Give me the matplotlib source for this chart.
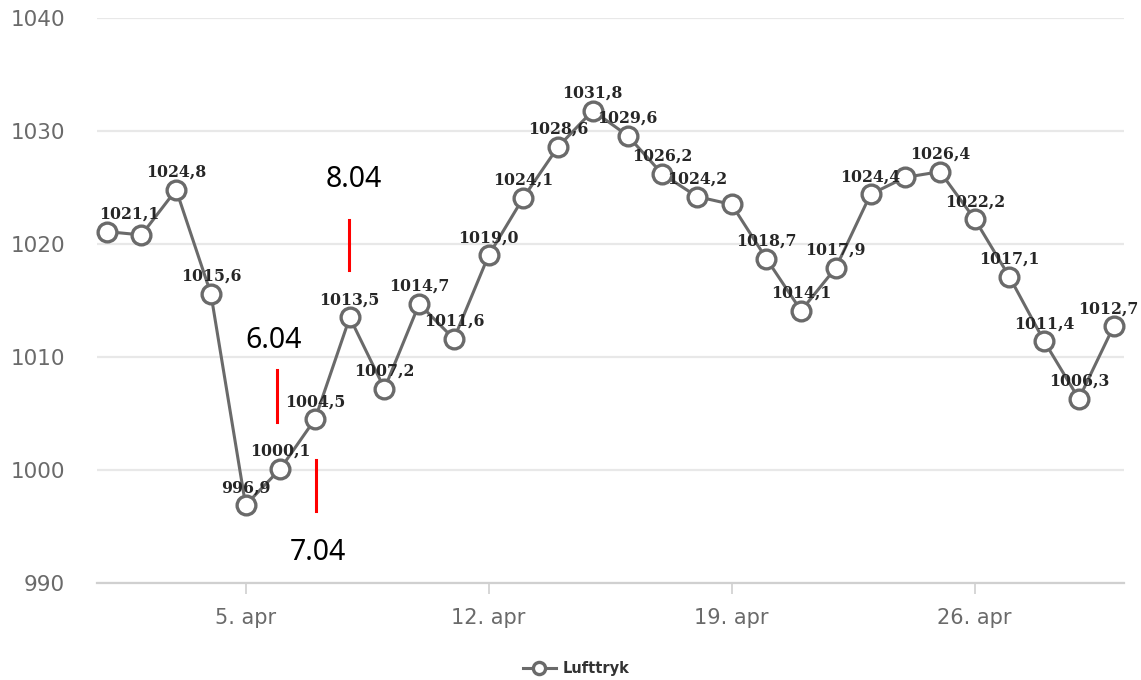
import matplotlib
matplotlib.use("Agg")
import matplotlib.pyplot as plt

days = list(range(1, 31))
pressure = [1021.1, 1020.8, 1024.8, 1015.6, 996.9, 1000.1, 1004.5, 1013.5, 1007.2, 1014.7,
            1011.6, 1019.0, 1024.1, 1028.6, 1031.8, 1029.6, 1026.2, 1024.2, 1023.5, 1018.7,
            1014.1, 1017.9, 1024.4, 1025.9, 1026.4, 1022.2, 1017.1, 1011.4, 1006.3, 1012.7]
labeled = [True, False, True, True, True, True, True, True, True, True,
           True, True, True, True, True, True, True, True, False, True,
           True, True, True, False, True, True, True, True, True, True]
x_ticks = [5, 12, 19, 26]
x_tick_labels = ["5. apr", "12. apr", "19. apr", "26. apr"]
y_ticks = [990, 1000, 1010, 1020, 1030, 1040]
series_name = "Lufttryk"
red_notes = ["6.04", "7.04", "8.04"]

fig = plt.figure(figsize=(11.41, 6.80), dpi=100)
ax = fig.add_axes([97/1141, 1-583/680, (1124-97)/1141, (583-18)/680])

line_color = "#6a6a6a"
ax.plot(days, pressure, color=line_color, lw=2.2, marker="o", ms=13.5,
        mfc="white", mec=line_color, mew=2.4, clip_on=False, zorder=3,
        label=series_name)

for d, v, lab in zip(days, pressure, labeled):
    if lab:
        txt = f"{v:.1f}".replace(".", ",")
        dx = 0
        if d == days[0]:
            dx = 16
        elif d == days[-1]:
            dx = -4
        ax.annotate(txt, (d, v), xytext=(dx, 12.5), textcoords="offset points",
                    ha="center", va="center", fontsize=11.3, fontweight="bold",
                    family="DejaVu Serif", color="#262626", zorder=4)

ax.set_xlim(0.72, 30.3)
ax.set_ylim(990, 1040)
ax.set_yticks(y_ticks)
ax.set_yticklabels([str(t) for t in y_ticks])
ax.set_xticks(x_ticks)
ax.set_xticklabels(x_tick_labels)
ax.grid(axis="y", color="#e8e8e8", lw=1.6)
ax.set_axisbelow(True)
for s in ["top", "right", "left"]:
    ax.spines[s].set_visible(False)
ax.spines["bottom"].set_color("#d0d0d0")
ax.spines["bottom"].set_linewidth(1.6)
ax.tick_params(axis="y", length=0, pad=23, labelsize=15.5, labelcolor="#6a6a6a")
ax.tick_params(axis="x", length=8, width=1.2, color="#d0d0d0", pad=10,
               labelsize=15, labelcolor="#6a6a6a")

# red annotations
notes = {"6.04": (5.81, 1011.5, 5.9, 1004.25, 1008.85),
         "7.04": (7.08, 992.7, 7.02, 996.4, 1000.9),
         "8.04": (8.12, 1025.7, 7.98, 1017.7, 1022.1)}
for name in red_notes:
    tx, ty, lx, y0, y1 = notes[name]
    ax.text(tx, ty, name, ha="center", va="center", fontsize=20.5,
            family="Noto Sans", color="black", zorder=5)
    ax.plot([lx, lx], [y0, y1], color="red", lw=2.2, zorder=5, clip_on=False)

leg = fig.legend(loc="center", bbox_to_anchor=(576/1141, 1-669/680), frameon=False,
                 prop={"size": 10.5, "weight": "bold"}, handlelength=2.3,
                 markerscale=0.65, handletextpad=0.45)
for t in leg.get_texts():
    t.set_color("#333333")

fig.savefig("out.png", dpi=100, facecolor="white")
